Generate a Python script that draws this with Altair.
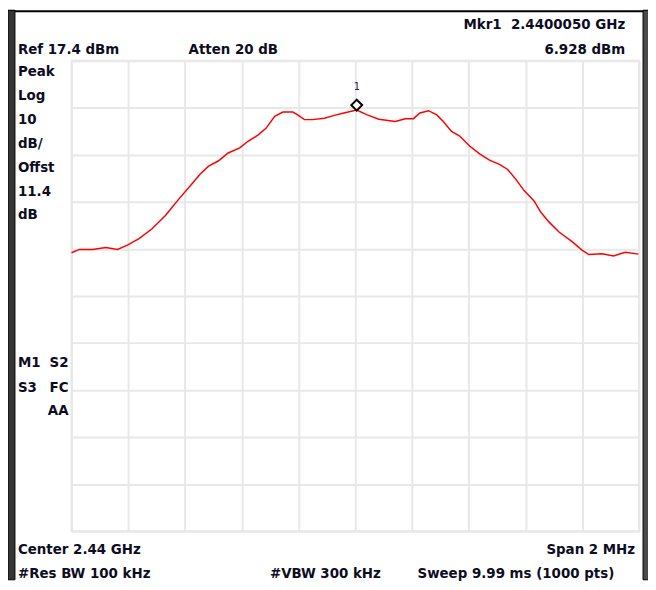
import altair as alt
import pandas as pd
import numpy as np

# ---- instrument settings ----
REF_LEVEL_DBM = 17.4
DB_PER_DIV = 10
N_DIV = 10
CENTER_GHZ = 2.44
SPAN_MHZ = 2.0

# ---- trace: frequency offset from centre (MHz) and level (dBm) ----
freq_offset_mhz = [
    -1.000, -0.972, -0.926, -0.879, -0.838, -0.803, -0.762, -0.716, -0.669, -0.622,
    -0.576, -0.547, -0.517, -0.483, -0.448, -0.407, -0.378, -0.343, -0.314, -0.284,
    -0.255, -0.220, -0.203, -0.179, -0.150, -0.109, -0.074, -0.040, 0.005, 0.042,
    0.083, 0.141, 0.176, 0.205, 0.228, 0.258, 0.287, 0.310, 0.339, 0.368,
    0.403, 0.438, 0.473, 0.508, 0.537, 0.566, 0.595, 0.630, 0.654, 0.683,
    0.718, 0.765, 0.800, 0.823, 0.870, 0.910, 0.951, 0.998,
]
level_dbm = [
    -23.4, -22.7, -22.7, -22.3, -22.7, -21.8, -20.4, -18.3, -15.5, -12.0,
    -8.8, -6.7, -5.0, -3.9, -2.2, -1.1, 0.3, 1.6, 3.1, 5.6,
    6.5, 6.5, 5.9, 4.9, 4.9, 5.2, 5.8, 6.3, 6.928, 5.9,
    5.0, 4.5, 5.1, 5.1, 6.3, 6.8, 5.9, 4.5, 2.4, 1.4,
    -0.7, -2.4, -3.7, -4.6, -5.7, -7.8, -10.2, -12.4, -14.8, -16.9,
    -19.0, -21.1, -22.9, -23.8, -23.6, -24.1, -23.3, -23.7,
]
assert len(freq_offset_mhz) == len(level_dbm)

# ---- marker ----
marker_name = ["1"]
marker_offset_mhz = [0.005]
marker_dbm = [6.928]

# ---- screen annotations ----
header_marker = "Mkr1\u00a0\u00a02.4400050 GHz"
header_ref = "Ref 17.4 dBm"
header_atten = "Atten 20 dB"
header_marker_level = "6.928 dBm"
left_column = ["Peak", "Log", "10", "dB/", "Offst", "11.4", "dB"]
footer_center = "Center 2.44 GHz"
footer_span = "Span 2 MHz"
footer_rbw = "#Res BW 100 kHz"
footer_vbw = "#VBW 300 kHz"
footer_sweep = "Sweep 9.99 ms (1000 pts)"

FONT = "DejaVu Sans Condensed, Liberation Sans Narrow, sans-serif"
TEXT_COLOR = "#0d0d1f"
GRID_COLOR = "#e8e8e8"

bottom = REF_LEVEL_DBM - DB_PER_DIV * N_DIV
y_grid = [REF_LEVEL_DBM - DB_PER_DIV * i for i in range(N_DIV + 1)]
x_grid = list(np.linspace(-SPAN_MHZ / 2, SPAN_MHZ / 2, N_DIV + 1))

trace = pd.DataFrame({"f": freq_offset_mhz, "dbm": level_dbm})
mk = pd.DataFrame({"f": marker_offset_mhz, "dbm": marker_dbm, "name": marker_name})

x_enc = alt.X(
    "f:Q",
    scale=alt.Scale(domain=[-SPAN_MHZ / 2, SPAN_MHZ / 2], nice=False, zero=False),
    axis=alt.Axis(values=x_grid, labels=False, ticks=False, domain=False, title=None,
                  grid=True, gridColor=GRID_COLOR, gridWidth=2),
)
y_enc = alt.Y(
    "dbm:Q",
    scale=alt.Scale(domain=[bottom, REF_LEVEL_DBM], nice=False, zero=False),
    axis=alt.Axis(values=y_grid, labels=False, ticks=False, domain=False, title=None,
                  grid=True, gridColor=GRID_COLOR, gridWidth=2),
)

line = alt.Chart(trace).mark_line(color="#ff0000", strokeWidth=1.5).encode(x=x_enc, y=y_enc)

diamond = alt.Chart(mk).mark_point(
    shape="diamond", size=120, filled=True, fill="white", stroke="black",
    strokeWidth=2, yOffset=-5, opacity=1,
).encode(x="f:Q", y="dbm:Q")

marker_label = alt.Chart(mk).mark_text(
    font="DejaVu Sans Mono", fontSize=10, color="#1a1a40", dy=-23, baseline="middle"
).encode(x="f:Q", y="dbm:Q", text="name:N")


def label(txt, x, y, align="left", size=15):
    return alt.Chart(pd.DataFrame({"t": [txt]})).mark_text(
        align=align, baseline="middle", font=FONT, fontSize=size,
        fontWeight="bold", color=TEXT_COLOR,
    ).encode(text="t:N", x=alt.value(x), y=alt.value(y))


def band(x1, x2, y1, y2, fill, stroke=None):
    kw = dict(fill=fill)
    if stroke:
        kw.update(stroke=stroke, strokeWidth=1)
    return alt.Chart(pd.DataFrame({"a": [0]})).mark_rect(**kw).encode(
        x=alt.value(x1), x2=alt.value(x2), y=alt.value(y1), y2=alt.value(y2)
    )


layers = [line, diamond, marker_label]

layers += [
    label(header_marker, 558, -37, "right"),
    label(header_ref, -54, -12),
    label(header_atten, 118, -12),
    label(header_marker_level, 558, -12, "right"),
]
left_y = [10, 34, 59, 83, 107, 131, 154]
for txt, yy in zip(left_column, left_y):
    layers.append(label(txt, -54, yy))
layers += [
    label("M1", -54, 304), label("S2", -3, 304, "right"),
    label("S3", -54, 329), label("FC", -3, 329, "right"),
    label("AA", -3, 352, "right"),
    label(footer_center, -54, 492),
    label(footer_span, 568, 492, "right"),
    label(footer_rbw, -54, 516),
    label(footer_vbw, 200, 516),
    label(footer_sweep, 547, 516, "right"),
]
# instrument frame
layers += [
    band(-64, 582, -51, -49, "#000000"),
    band(-64, -57, -51, 523, "#353535", "#000000"),
    band(576, 582, -51, 523, "#4a4a4a", "#000000"),
]

chart = alt.layer(*layers).properties(
    width=572, height=474,
    padding={"left": 64, "top": 51, "right": 9, "bottom": 49},
    autosize="none", background="white",
).configure_view(stroke=GRID_COLOR, strokeWidth=2)

chart.save("out.html", embed_options={"renderer": "svg", "actions": False})
